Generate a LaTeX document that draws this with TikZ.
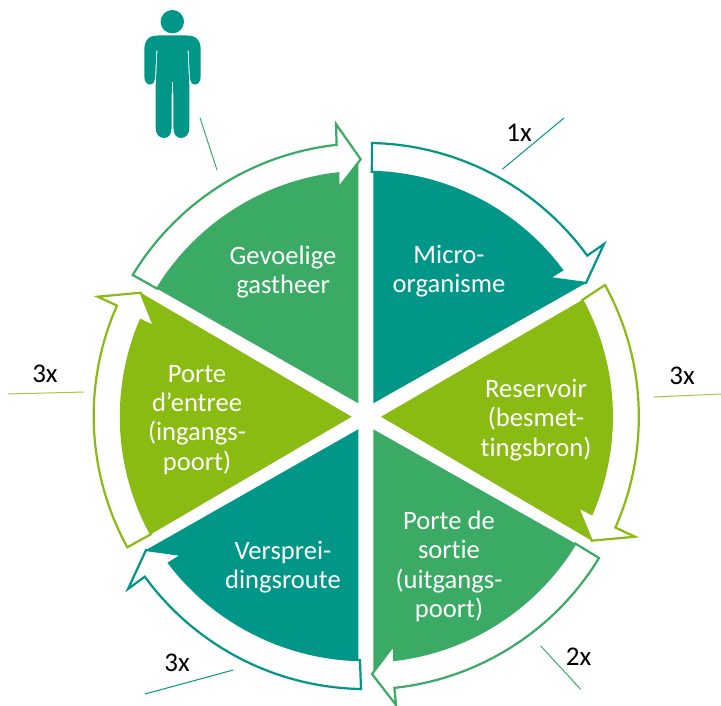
\documentclass[tikz,border=0pt]{standalone}
\usepackage{fontspec}
\setmainfont{Carlito}[Ligatures=CommonOff]
\definecolor{tealc}{RGB}{0,150,136}
\definecolor{greenc}{RGB}{58,170,101}
\definecolor{limec}{RGB}{138,187,18}
\definecolor{limel}{RGB}{160,200,70}
\tikzset{
  arrowshape/.style={fill=white,draw=#1,line width=2.2pt,miter limit=10,line join=miter},
  wedge/.style={fill=#1,draw=none},
  wlabel/.style={text=white,font=\fontsize{26.6}{29.2}\selectfont,align=center,inner sep=0pt},
  xlabel/.style={text=black,font=\fontsize{27}{30}\selectfont,inner sep=0pt},
  tick/.style={draw=#1,line width=1pt}
}
\begin{document}
\begin{tikzpicture}[x=1pt,y=1pt,yscale=-1]
\useasboundingbox (0,0) rectangle (721,706);
% wedges
\path[wedge=tealc] (373.3,403.3) -- (586,283) -- (549,278) -- (562,270) arc[start angle=-36.8,end angle=-88.6,radius=245] -- (373.3,172) -- cycle;
\path[wedge=limec] (381,416.7) -- (591.7,540.7) -- (577.7,506.7) -- (591.7,514) arc[start angle=23.4,end angle=-28.45,radius=245] -- cycle;
\path[wedge=greenc] (373.3,429.3) -- (373.3,674) -- (394,645) -- (394,660) arc[start angle=83.4,end angle=31.2,radius=245] -- cycle;
\path[wedge=tealc] (358.3,429.3) -- (146,550) -- (182,555) -- (169,563) arc[start angle=143.2,end angle=91.4,x radius=246,y radius=242.5] -- (358.3,659) -- cycle;
\path[wedge=limec] (351.7,416.7) -- (140.7,292.7) -- (154.3,326.7) -- (140.7,320) arc[start angle=203.2,end angle=151.3,radius=245] -- cycle;
\path[wedge=greenc] (358.3,403.3) -- (358.3,160) -- (338.3,188.3) -- (338.3,173.3) arc[start angle=263.5,end angle=211.5,radius=245] -- cycle;
% arrows
\draw[arrowshape=tealc] (372,143) arc[start angle=-88.74,end angle=-36,radius=273.5] -- (604,244) -- (586,283) -- (549,278) -- (562,270) arc[start angle=-36.8,end angle=-88.6,radius=245] -- cycle;
\draw[arrowshape=limec] (605,285) arc[start angle=-28.8,end angle=23.9,radius=273.5] -- (635,536.7) -- (591.7,540.7) -- (577.7,506.7) -- (591.7,514) arc[start angle=23.4,end angle=-28.45,radius=245] -- cycle;
\draw[arrowshape=greenc] (599,558) arc[start angle=31.3,end angle=83.9,radius=273.5] -- (396,705) -- (372,674) -- (394,645) -- (394,660) arc[start angle=83.4,end angle=31.2,radius=245] -- cycle;
\draw[arrowshape=tealc] (361,689) arc[start angle=91,end angle=143.9,radius=273.5] -- (128,589) -- (146,550) -- (182,555) -- (169,563) arc[start angle=143.2,end angle=91.4,x radius=246,y radius=242.5] -- cycle;
\draw[arrowshape=limec] (127.3,547.3) arc[start angle=151.3,end angle=203.8,radius=273.5] -- (97.7,296.7) -- (140.7,292.7) -- (154.3,326.7) -- (140.7,320) arc[start angle=203.2,end angle=151.3,radius=245] -- cycle;
\draw[arrowshape=greenc] (132.7,275) arc[start angle=211.2,end angle=263.7,radius=273.5] -- (336,124) -- (360.7,159.3) -- (338.3,188.3) -- (338.3,173.3) arc[start angle=263.5,end angle=211.5,radius=245] -- cycle;
% wedge labels
\node[wlabel] (micro) at (449,271.5) {Micro-\\organisme};
\node[wlabel] (reservoir) at (536,420) {Reservoir\\(besmet-\\tingsbron)};
\node[wlabel] (sortie) at (449,566.5) {Porte de\\sortie\\(uitgangs-\\poort)};
\node[wlabel] (route) at (283,567.5) {Versprei-\\dingsroute};
\node[wlabel] (entree) at (197,420) {Porte\\d’entree\\(ingangs-\\poort)};
\node[wlabel] (gast) at (283,272) {Gevoelige\\gastheer};
% count labels and ticks
\node[xlabel] (l1) at (519,133) {1x};
\node[xlabel] (l2) at (682,376) {3x};
\node[xlabel] (l3) at (578.5,657) {2x};
\node[xlabel] (l4) at (177,663) {3x};
\node[xlabel] (l5) at (45,374) {3x};
\draw[tick=tealc] (502.3,169.3) -- (564,118);
\draw[tick=limel] (653.5,397) -- (721,394);
\draw[tick=greenc] (540.7,646) -- (580.7,689.3);
\draw[tick=tealc] (233.3,670) -- (145,694);
\draw[tick=limel] (8,394) -- (84,392);
\draw[tick=greenc] (200,117.7) -- (217,170);
% person
\fill[tealc] (172.3,21.7) circle[radius=11.7];
\fill[tealc] (158,35.5) -- (187,35.5) .. controls (196,35.5) and (200.7,40) .. (200.7,50)
  -- (200.7,76) .. controls (200.7,82) and (198,84.5) .. (195,84.5) .. controls (192,84.5) and (190.2,82) .. (189.8,76)
  -- (188.6,50.5) -- (187.6,50.5) -- (189.3,86) -- (189.3,128) .. controls (189.3,134) and (186,138) .. (181,138)
  .. controls (176,138) and (173.6,134) .. (173.4,128) -- (173.2,82) -- (171.8,82) -- (171.6,128)
  .. controls (171.4,134) and (169,138) .. (164,138) .. controls (159,138) and (155.7,134) .. (155.7,128)
  -- (155.7,86) -- (157.4,50.5) -- (156.4,50.5) -- (155.2,76) .. controls (154.8,82) and (153,84.5) .. (150,84.5)
  .. controls (147,84.5) and (144.3,82) .. (144.3,76) -- (144.3,50) .. controls (144.3,40) and (149,35.5) .. (158,35.5) -- cycle;
\end{tikzpicture}
\end{document}
